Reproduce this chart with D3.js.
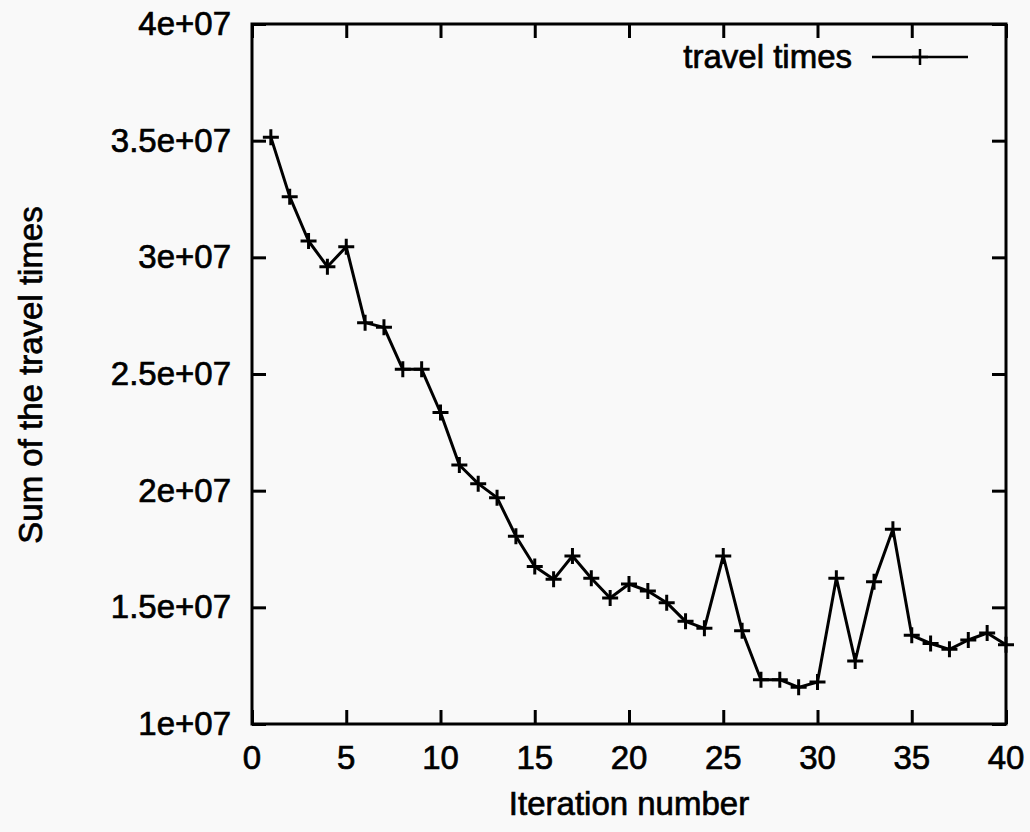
<!DOCTYPE html>
<html>
<head>
<meta charset="utf-8">
<script src="https://cdnjs.cloudflare.com/ajax/libs/d3/7.8.5/d3.min.js"></script>
<style>
  html, body { margin: 0; padding: 0; background: #f9f9f9; }
  svg { display: block; }
  text { font-family: "Liberation Sans", Arial, Helvetica, sans-serif; fill: #000; stroke: #000; stroke-width: 0.7px; }
</style>
</head>
<body>
<svg id="chart"></svg>
<script>
// Canvas size and plot frame
const width = 1030, height = 832;
const margin = { top: 24, right: 24, bottom: 108, left: 252 };
const fontSize = 33;

// Data
const iterations = d3.range(1, 41);
const travelTimes = [
  3.515e7, 3.26e7, 3.07e7, 2.96e7, 3.045e7, 2.72e7, 2.70e7, 2.52e7, 2.52e7, 2.335e7,
  2.11e7, 2.03e7, 1.97e7, 1.805e7, 1.675e7, 1.62e7, 1.72e7, 1.625e7, 1.54e7, 1.60e7,
  1.57e7, 1.52e7, 1.44e7, 1.41e7, 1.72e7, 1.40e7, 1.19e7, 1.19e7, 1.157e7, 1.18e7,
  1.625e7, 1.27e7, 1.61e7, 1.835e7, 1.38e7, 1.345e7, 1.32e7, 1.36e7, 1.39e7, 1.34e7
];
const xTicks = [0, 5, 10, 15, 20, 25, 30, 35, 40];
const yTicks = [1e7, 1.5e7, 2e7, 2.5e7, 3e7, 3.5e7, 4e7];
const yTickLabels = ["1e+07", "1.5e+07", "2e+07", "2.5e+07", "3e+07", "3.5e+07", "4e+07"];

const points = iterations.map((it, i) => ({ x: it, y: travelTimes[i] }));

const svg = d3.select("#chart")
    .attr("width", width)
    .attr("height", height);

const x = d3.scaleLinear().domain([0, 40]).range([margin.left, width - margin.right]);
const y = d3.scaleLinear().domain([1e7, 4e7]).range([height - margin.bottom, margin.top]);

const tickLen = 14;

// Inward ticks on all four sides (gnuplot style)
const axes = svg.append("g");
axes.append("g")
    .attr("transform", `translate(0,${y(1e7)})`)
    .call(d3.axisTop(x).tickValues(xTicks).tickSize(tickLen).tickFormat(""));
axes.append("g")
    .attr("transform", `translate(0,${y(4e7)})`)
    .call(d3.axisBottom(x).tickValues(xTicks).tickSize(tickLen).tickFormat(""));
axes.append("g")
    .attr("transform", `translate(${x(0)},0)`)
    .call(d3.axisRight(y).tickValues(yTicks).tickSize(tickLen).tickFormat(""));
axes.append("g")
    .attr("transform", `translate(${x(40)},0)`)
    .call(d3.axisLeft(y).tickValues(yTicks).tickSize(tickLen).tickFormat(""));
axes.selectAll(".domain").remove();
axes.selectAll(".tick line").attr("stroke", "#000").attr("stroke-width", 3);

// Frame
svg.append("rect")
    .attr("x", x(0))
    .attr("y", y(4e7))
    .attr("width", x(40) - x(0))
    .attr("height", y(1e7) - y(4e7))
    .attr("fill", "none")
    .attr("stroke", "#000")
    .attr("stroke-width", 3);

// Tick labels
svg.append("g").selectAll("text")
    .data(xTicks)
    .join("text")
    .attr("x", d => x(d))
    .attr("y", y(1e7) + 45)
    .attr("text-anchor", "middle")
    .attr("font-size", fontSize)
    .text(d => d);

svg.append("g").selectAll("text")
    .data(yTicks)
    .join("text")
    .attr("x", x(0) - 21)
    .attr("y", d => y(d) + 11)
    .attr("text-anchor", "end")
    .attr("font-size", fontSize)
    .text((d, i) => yTickLabels[i]);

// Axis titles
svg.append("text")
    .attr("x", (x(0) + x(40)) / 2)
    .attr("y", 815)
    .attr("text-anchor", "middle")
    .attr("font-size", fontSize)
    .text("Iteration number");

svg.append("text")
    .attr("transform", `translate(42,${(y(1e7) + y(4e7)) / 2 + 1}) rotate(-90)`)
    .attr("text-anchor", "middle")
    .attr("font-size", fontSize)
    .text("Sum of the travel times");

// Data line
const line = d3.line().x(d => x(d.x)).y(d => y(d.y));
svg.append("path")
    .datum(points)
    .attr("d", line)
    .attr("fill", "none")
    .attr("stroke", "#000")
    .attr("stroke-width", 3)
    .attr("stroke-linejoin", "round");

// Plus markers
const markSize = 8;
const plusPath = (cx, cy) => `M${cx - markSize},${cy}H${cx + markSize}M${cx},${cy - markSize}V${cy + markSize}`;
svg.append("g").selectAll("path")
    .data(points)
    .join("path")
    .attr("d", d => plusPath(x(d.x), y(d.y)))
    .attr("stroke", "#000")
    .attr("stroke-width", 3);

// Legend
const legend = svg.append("g");
legend.append("text")
    .attr("x", 852)
    .attr("y", 68)
    .attr("text-anchor", "end")
    .attr("font-size", fontSize)
    .text("travel times");
legend.append("line")
    .attr("x1", 872).attr("x2", 968)
    .attr("y1", 57).attr("y2", 57)
    .attr("stroke", "#000")
    .attr("stroke-width", 2.5);
legend.append("path")
    .attr("d", plusPath(920, 57))
    .attr("stroke", "#000")
    .attr("stroke-width", 2.5);
</script>
</body>
</html>
